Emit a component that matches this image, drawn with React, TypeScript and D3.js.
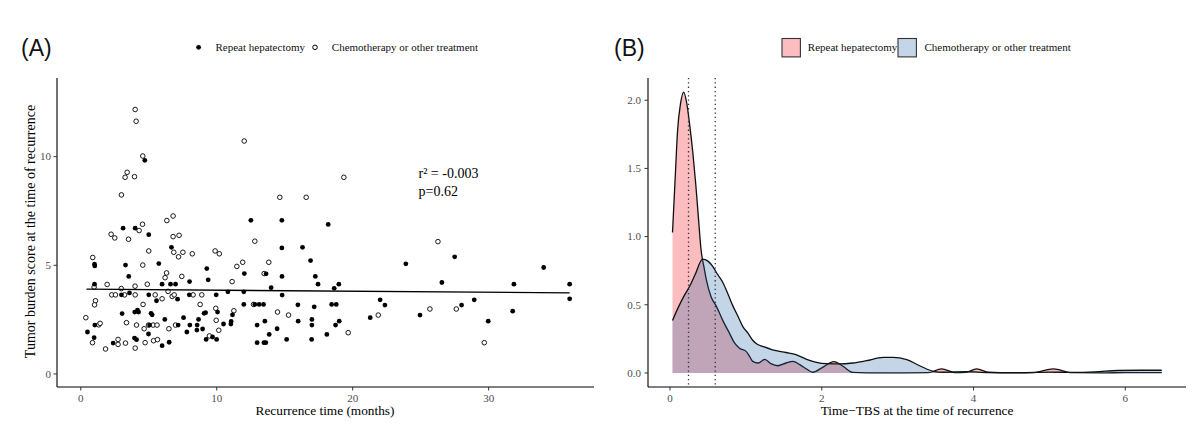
import React from "react";
import * as d3 from "d3";

// ---------- Panel A data: recurrence time (months) vs tumor burden score ----------
const repeatHepatectomy: [number, number][] = [
  [4.71, 9.83], [3.11, 6.71], [4.0, 6.71], [5.0, 6.41], [6.67, 5.83], [12.51, 7.07], [14.79, 7.07], [18.2, 6.88],
  [14.79, 5.8], [16.31, 5.83], [16.9, 5.22], [12.03, 4.62], [13.63, 4.61], [14.8, 4.49], [17.25, 4.49], [17.45, 4.13],
  [18.98, 4.13], [18.64, 3.94], [14.0, 3.97], [9.27, 4.85], [9.37, 4.33], [1.01, 5.05], [1.03, 4.97], [3.29, 5.01],
  [5.74, 5.08], [3.53, 4.49], [8.0, 4.25], [1.01, 4.13], [5.98, 4.13], [6.6, 4.13], [6.97, 4.13], [2.99, 3.64],
  [3.58, 3.73], [5.0, 3.64], [5.57, 3.37], [7.12, 3.44], [7.98, 3.64], [3.04, 2.78], [3.97, 2.85], [4.17, 2.94],
  [4.25, 2.85], [5.17, 2.79], [5.25, 2.72], [9.07, 2.79], [6.18, 2.51], [7.56, 2.59], [8.66, 2.51], [1.03, 2.25],
  [5.06, 2.25], [7.16, 2.25], [8.02, 2.25], [8.56, 2.25], [8.54, 2.02], [8.96, 2.07], [0.49, 1.93], [7.8, 1.93],
  [0.98, 1.67], [4.98, 1.84], [2.38, 1.42], [3.95, 1.65], [4.1, 1.58], [6.5, 1.46], [5.98, 1.3], [10.82, 3.78],
  [11.99, 3.78], [9.96, 3.64], [14.81, 3.63], [11.99, 3.2], [12.8, 3.2], [13.12, 3.2], [13.44, 3.2], [15.97, 3.18],
  [17.17, 3.09], [18.45, 3.2], [18.79, 3.2], [10.06, 2.85], [9.18, 2.82], [11.16, 2.72], [10.5, 2.3], [11.04, 2.3],
  [11.06, 2.42], [12.97, 2.25], [13.54, 2.43], [15.99, 2.43], [17.0, 2.51], [17.0, 2.25], [19.01, 2.43], [18.74, 2.25],
  [14.44, 2.08], [13.86, 1.82], [18.1, 1.82], [9.69, 1.7], [9.22, 1.59], [9.99, 1.59], [12.97, 1.44], [13.47, 1.44],
  [13.61, 1.44], [15.14, 1.59], [16.98, 1.59], [23.91, 5.07], [27.5, 5.39], [34.05, 4.9], [26.56, 4.21], [31.86, 4.13],
  [35.96, 4.13], [22.02, 3.41], [22.37, 3.17], [28.94, 3.41], [35.96, 3.46], [28.01, 3.17], [24.95, 2.71], [21.29, 2.59],
  [31.77, 2.89], [29.97, 2.43],
];

const chemotherapyOther: [number, number][] = [
  [4.0, 12.17], [4.07, 11.63], [4.56, 10.03], [3.41, 9.28], [3.26, 9.05], [3.95, 9.08], [2.99, 8.24], [6.33, 7.06],
  [6.79, 7.27], [4.29, 6.6], [4.54, 6.89], [2.23, 6.43], [2.5, 6.26], [3.51, 6.2], [6.79, 6.32], [7.23, 6.38],
  [5.0, 5.66], [6.84, 5.6], [7.51, 5.6], [7.19, 5.39], [8.2, 5.53], [9.88, 5.66], [10.19, 5.53], [19.35, 9.05],
  [12.02, 10.72], [14.64, 8.13], [16.58, 8.13], [12.8, 6.11], [11.91, 5.14], [11.48, 4.95], [13.83, 5.14], [13.49, 4.62],
  [11.13, 4.25], [0.88, 5.36], [4.56, 5.01], [6.31, 4.65], [6.2, 4.43], [7.43, 4.49], [1.94, 4.12], [0.98, 4.0],
  [2.98, 3.93], [3.99, 4.04], [4.89, 4.13], [2.28, 3.64], [2.55, 3.64], [3.22, 3.64], [4.0, 3.64], [5.47, 3.64],
  [5.98, 3.46], [6.42, 3.8], [6.72, 3.57], [6.87, 3.64], [8.26, 3.64], [8.9, 3.64], [1.08, 3.37], [1.01, 3.18],
  [4.58, 3.2], [8.78, 3.2], [0.37, 2.59], [1.32, 2.26], [1.42, 2.33], [3.36, 2.36], [4.1, 2.25], [4.66, 2.08],
  [4.98, 2.25], [5.32, 2.25], [5.61, 2.25], [6.48, 2.08], [6.97, 2.25], [0.86, 1.44], [2.74, 1.59], [2.74, 1.36],
  [3.29, 1.42], [4.73, 1.44], [5.35, 1.53], [5.64, 1.58], [1.82, 1.15], [4.0, 1.19], [12.71, 3.2], [9.93, 3.02],
  [11.26, 2.91], [14.47, 2.85], [15.28, 2.71], [9.96, 2.47], [10.15, 2.01], [9.46, 1.75], [26.27, 6.09], [25.68, 2.99],
  [27.62, 2.99], [21.88, 2.71], [19.67, 1.9], [29.68, 1.44],
];

const fitIntercept = 3.902;
const fitSlope = -0.00478;
const fitRange = [0.42, 35.96];
const statsLines = ["r\u00B2 = -0.003", "p=0.62"];

const xTicksA = [0, 10, 20, 30];
const yTicksA = [0, 5, 10];
const xDomainA = [-1.75, 37.75];
const yDomainA = [-0.6, 13.62];

// ---------- Panel B data: density of Time-TBS ----------
const densHepX = [0.033, 0.07, 0.1, 0.14, 0.18, 0.22, 0.257, 0.3, 0.34, 0.37, 0.41, 0.45, 0.48, 0.54, 0.61, 0.7, 0.785,
  0.85, 0.92, 1.0, 1.05, 1.09, 1.16, 1.25, 1.33, 1.42, 1.53, 1.62, 1.71, 1.8, 1.88, 2.0, 2.16, 2.28, 2.41, 2.6, 3.0, 3.4,
  3.58, 3.75, 3.9, 4.04, 4.2, 4.5, 4.8, 5.05, 5.3, 5.7, 6.0, 6.48];
const densHepY = [1.03, 1.45, 1.78, 1.98, 2.06, 1.98, 1.83, 1.62, 1.38, 1.17, 0.9, 0.77, 0.68, 0.56, 0.49, 0.38, 0.29,
  0.22, 0.18, 0.16, 0.12, 0.085, 0.073, 0.1, 0.068, 0.053, 0.073, 0.085, 0.061, 0.029, 0.005, 0.037, 0.083, 0.049, 0.004,
  0.001, 0.0, 0.002, 0.03, 0.003, 0.005, 0.03, 0.005, 0.0, 0.003, 0.03, 0.002, 0.0, 0.003, 0.003];

const densChemoX = [0.033, 0.1, 0.18, 0.257, 0.33, 0.43, 0.5, 0.565, 0.63, 0.7, 0.77, 0.83, 0.9, 0.96, 1.03, 1.09, 1.15,
  1.22, 1.35, 1.53, 1.66, 1.8, 1.93, 2.06, 2.23, 2.41, 2.59, 2.81, 2.94, 3.12, 3.29, 3.47, 3.6, 3.9, 4.2, 4.6, 5.0, 5.3,
  5.6, 5.9, 6.2, 6.48];
const densChemoY = [0.385, 0.47, 0.56, 0.634, 0.72, 0.835, 0.82, 0.78, 0.72, 0.66, 0.57, 0.49, 0.41, 0.34, 0.29, 0.24,
  0.21, 0.195, 0.17, 0.15, 0.134, 0.1, 0.078, 0.068, 0.066, 0.073, 0.09, 0.114, 0.114, 0.097, 0.053, 0.012, 0.005, 0.01,
  0.003, 0.002, 0.006, 0.004, 0.008, 0.018, 0.02, 0.02];

const medianLines = [0.244, 0.596];
const xTicksB = [0, 2, 4, 6];
const yTicksB = [0, 0.5, 1, 1.5, 2];
const xDomainB = [-0.29, 6.8];
const yDomainB = [-0.103, 2.163];

const groups = ["Repeat hepatectomy", "Chemotherapy or other treatment"];
const fillColors = ["#f0000c", "#185ca4"];
const fillAlpha = 0.26;

const SERIF = "'Liberation Serif', 'Times New Roman', serif";
const SANS = "'Liberation Sans', Arial, sans-serif";
const TICK_COLOR = "#4d4d4d";

export default function App() {
  const top = 78, bottom = 387;
  const xA = d3.scaleLinear().domain(xDomainA).range([57, 594]);
  const yA = d3.scaleLinear().domain(yDomainA).range([bottom, top]);
  const xB = d3.scaleLinear().domain(xDomainB).range([648, 1186]);
  const yB = d3.scaleLinear().domain(yDomainB).range([bottom, top]);

  const hepDens = densHepX.map((x, i) => [x, densHepY[i]] as [number, number]);
  const chemoDens = densChemoX.map((x, i) => [x, densChemoY[i]] as [number, number]);

  const area = d3.area<[number, number]>()
    .x((d) => xB(d[0])).y0(yB(0)).y1((d) => yB(d[1])).curve(d3.curveMonotoneX);
  const line = d3.line<[number, number]>()
    .x((d) => xB(d[0])).y((d) => yB(d[1])).curve(d3.curveMonotoneX);

  const fitY = (x: number) => fitIntercept + fitSlope * x;

  return (
    <svg width={1200} height={438} style={{ position: "absolute", left: 0, top: 0, background: "#fff" }}>
      <rect x={0} y={0} width={1200} height={438} fill="#fff" />
      {/* ===== Panel A ===== */}
      <text x={21} y={56} fontFamily={SANS} fontSize={23} fill="#111">(A)</text>
      <circle cx={198.6} cy={47.3} r={2.4} fill="#000" />
      <text x={215.5} y={51.2} fontFamily={SERIF} fontSize={11} fill="#111">{groups[0]}</text>
      <circle cx={315} cy={47.3} r={2.3} fill="#fff" stroke="#000" strokeWidth={1} />
      <text x={331.8} y={51.2} fontFamily={SERIF} fontSize={11} fill="#111">{groups[1]}</text>

      <line x1={57} x2={57} y1={top} y2={bottom} stroke="#000" strokeWidth={1.1} />
      <line x1={57} x2={594} y1={bottom} y2={bottom} stroke="#000" strokeWidth={1.1} />
      {xTicksA.map((t) => (
        <g key={"xa" + t}>
          <line x1={xA(t)} x2={xA(t)} y1={bottom} y2={bottom + 3.5} stroke="#333" strokeWidth={1} />
          <text x={xA(t)} y={401.5} textAnchor="middle" fontFamily={SERIF} fontSize={11} fill={TICK_COLOR}>{t}</text>
        </g>
      ))}
      {yTicksA.map((t) => (
        <g key={"ya" + t}>
          <line x1={53.5} x2={57} y1={yA(t)} y2={yA(t)} stroke="#333" strokeWidth={1} />
          <text x={51} y={yA(t) + 3.8} textAnchor="end" fontFamily={SERIF} fontSize={11} fill={TICK_COLOR}>{t}</text>
        </g>
      ))}
      <text x={325} y={414.5} textAnchor="middle" fontFamily={SERIF} fontSize={13.3} fill="#000">Recurrence time (months)</text>
      <text transform={`translate(35,${(top + bottom) / 2 - 1}) rotate(-90)`} textAnchor="middle" fontFamily={SERIF} fontSize={14} fill="#000">
        Tumor burden score at the time of recurrence
      </text>

      {chemotherapyOther.map((d, i) => (
        <circle key={"c" + i} cx={xA(d[0])} cy={yA(d[1])} r={2.3} fill="#fff" stroke="#000" strokeWidth={0.9} />
      ))}
      {repeatHepatectomy.map((d, i) => (
        <circle key={"h" + i} cx={xA(d[0])} cy={yA(d[1])} r={2.4} fill="#000" />
      ))}
      <line x1={xA(fitRange[0])} x2={xA(fitRange[1])} y1={yA(fitY(fitRange[0]))} y2={yA(fitY(fitRange[1]))} stroke="#000" strokeWidth={1.3} />
      {statsLines.map((s, i) => (
        <text key={s} x={418.5} y={177.5 + i * 18} fontFamily={SERIF} fontSize={14} fill="#000">{s}</text>
      ))}

      {/* ===== Panel B ===== */}
      <text x={614} y={56} fontFamily={SANS} fontSize={23} fill="#111">(B)</text>
      {groups.map((g, i) => {
        const sx = i === 0 ? 782 : 898;
        const tx = i === 0 ? 807.8 : 924.5;
        return (
          <g key={"lg" + i}>
            <rect x={sx} y={38.5} width={18.4} height={18.4} fill="#fff" />
            <rect x={sx} y={38.5} width={18.4} height={18.4} fill={fillColors[i]} fillOpacity={fillAlpha} stroke="#333" strokeWidth={1.1} />
            <text x={tx} y={51.2} fontFamily={SERIF} fontSize={11} fill="#111">{g}</text>
          </g>
        );
      })}

      <path d={area(hepDens) || ""} fill={fillColors[0]} fillOpacity={fillAlpha} />
      <path d={line(hepDens) || ""} fill="none" stroke="#111" strokeWidth={1.3} />
      <path d={area(chemoDens) || ""} fill={fillColors[1]} fillOpacity={fillAlpha} />
      <path d={line(chemoDens) || ""} fill="none" stroke="#111" strokeWidth={1.3} />

      {medianLines.map((m) => (
        <line key={"m" + m} x1={xB(m)} x2={xB(m)} y1={top} y2={bottom} stroke="#333" strokeWidth={1.3} strokeDasharray="1.3,3" />
      ))}

      <line x1={648} x2={648} y1={top} y2={bottom} stroke="#000" strokeWidth={1.1} />
      <line x1={648} x2={1186} y1={bottom} y2={bottom} stroke="#000" strokeWidth={1.1} />
      {xTicksB.map((t) => (
        <g key={"xb" + t}>
          <line x1={xB(t)} x2={xB(t)} y1={bottom} y2={bottom + 3.5} stroke="#333" strokeWidth={1} />
          <text x={xB(t)} y={401.5} textAnchor="middle" fontFamily={SERIF} fontSize={11} fill={TICK_COLOR}>{t}</text>
        </g>
      ))}
      {yTicksB.map((t) => (
        <g key={"yb" + t}>
          <line x1={644.5} x2={648} y1={yB(t)} y2={yB(t)} stroke="#333" strokeWidth={1} />
          <text x={641} y={yB(t) + 3.8} textAnchor="end" fontFamily={SERIF} fontSize={11} fill={TICK_COLOR}>{t.toFixed(1)}</text>
        </g>
      ))}
      <text x={917} y={414.5} textAnchor="middle" fontFamily={SERIF} fontSize={13.3} fill="#000">Time−TBS at the time of recurrence</text>
    </svg>
  );
}
